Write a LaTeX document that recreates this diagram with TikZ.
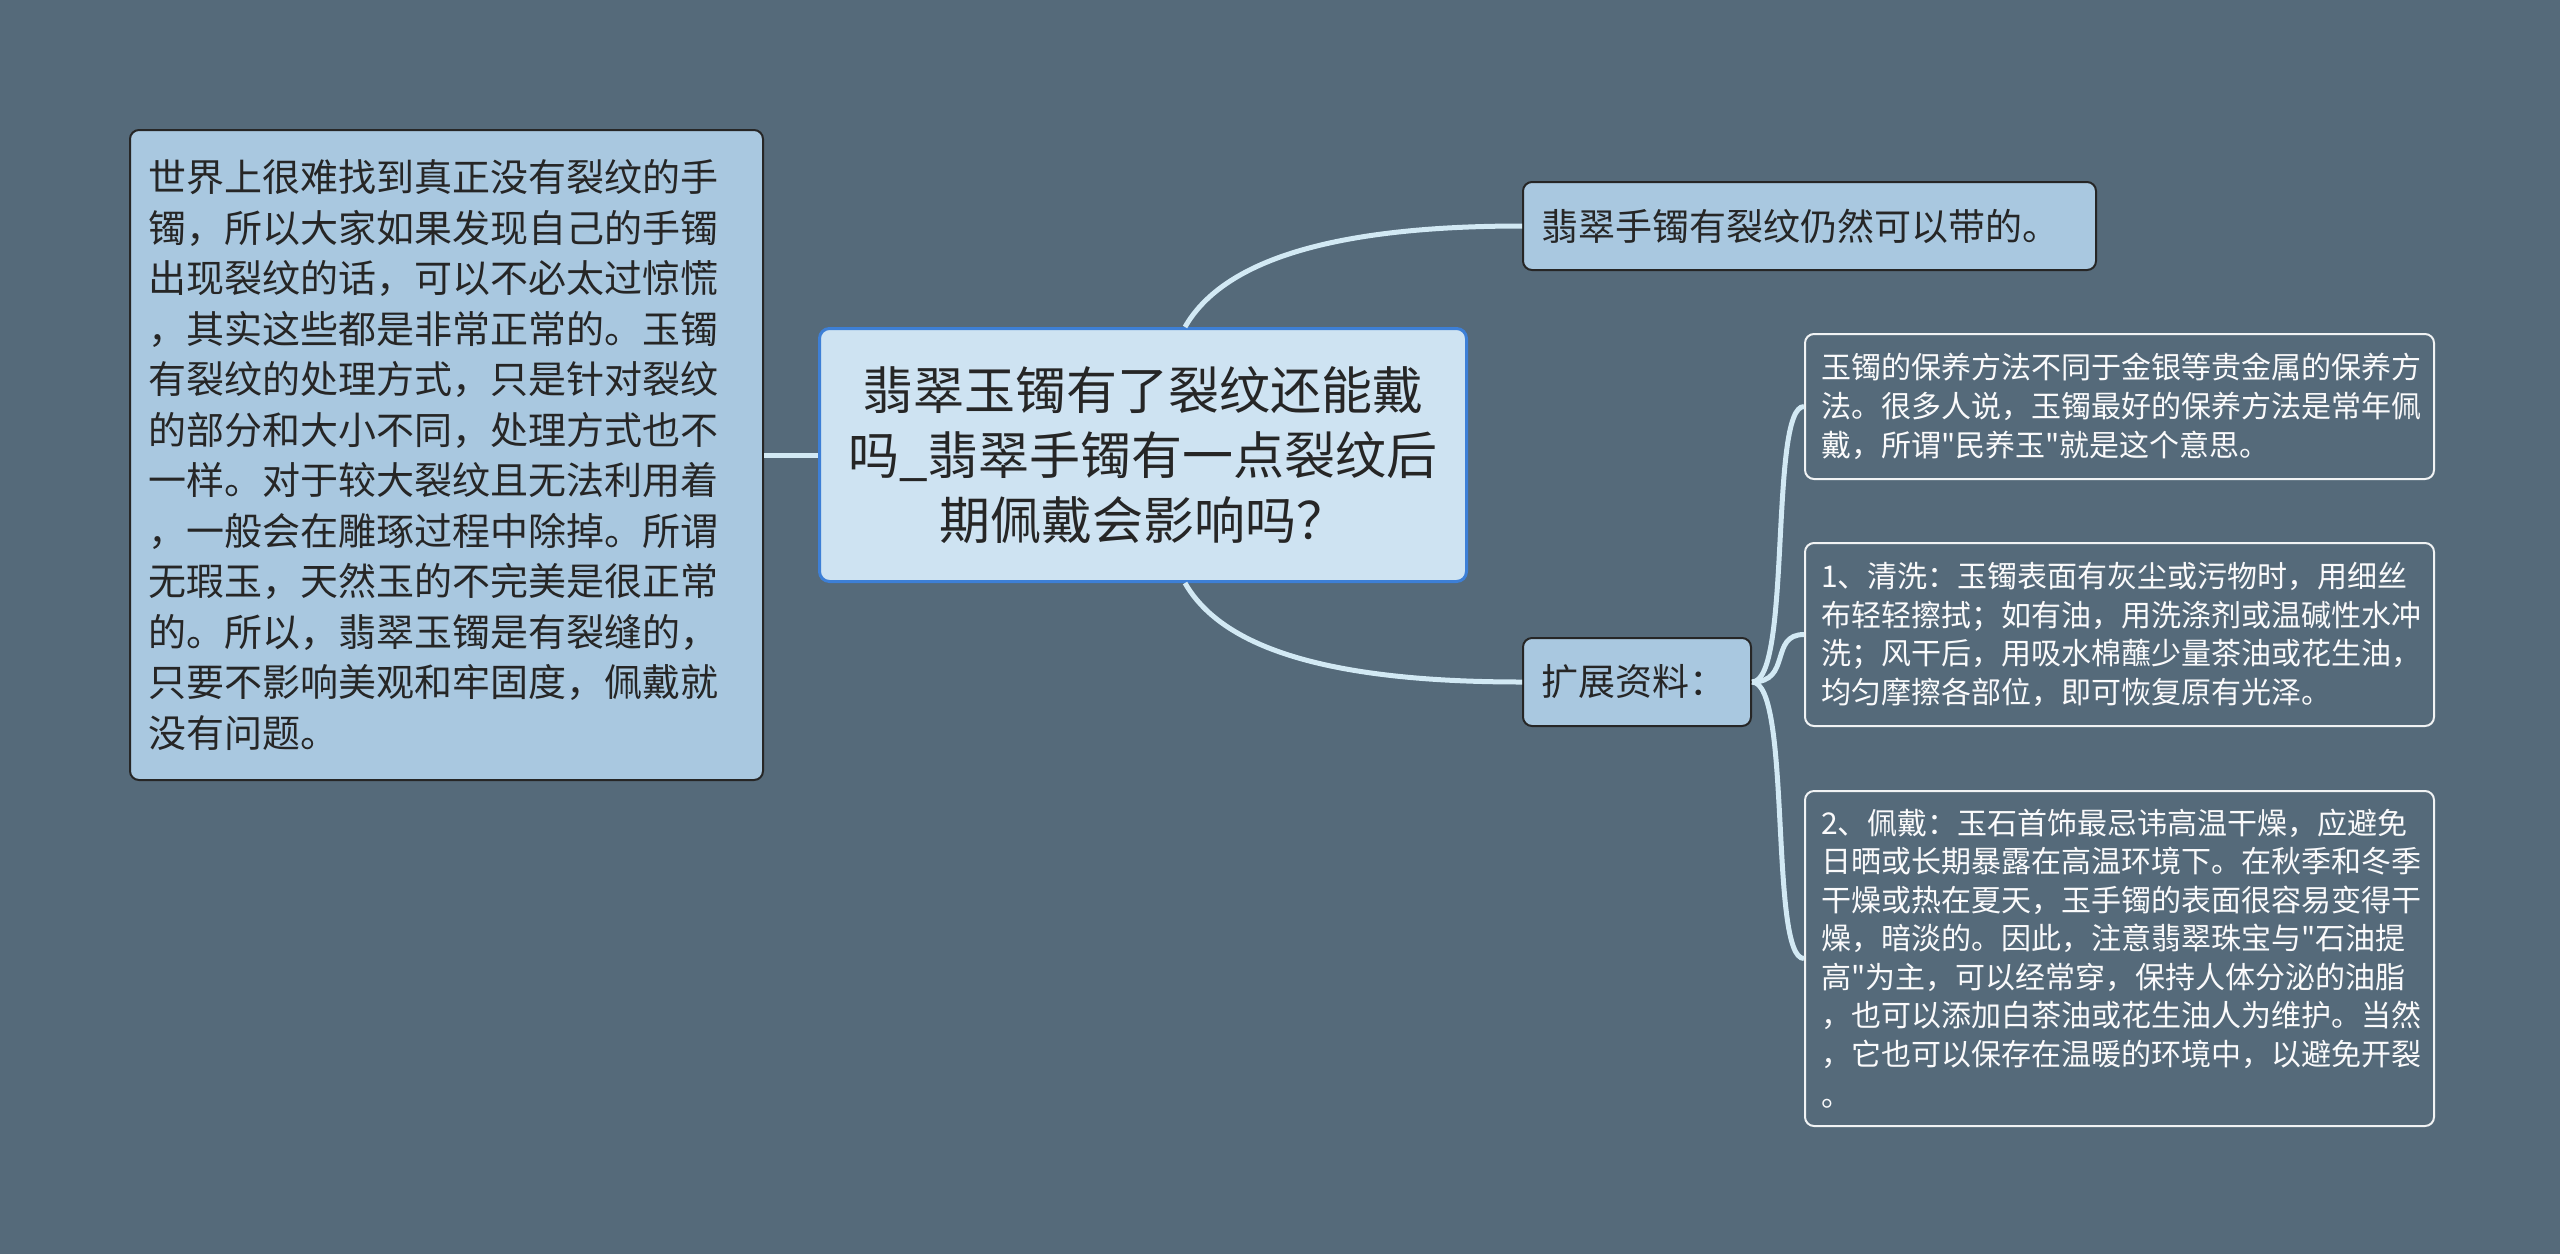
\documentclass[tikz,border=0pt]{standalone}
\usepackage{fontspec}
\setmainfont{Noto Sans CJK SC}[Ligatures=TeXOff]
\definecolor{bgc}{HTML}{556A7A}
\definecolor{lightfill}{HTML}{A9C8E0}
\definecolor{centerfill}{HTML}{CEE3F2}
\definecolor{centerborder}{HTML}{3D7FD6}
\definecolor{darktext}{HTML}{262626}
\definecolor{linkc}{HTML}{D2E9F4}
\tikzset{
  lightbox/.style={draw=black!85, line width=2pt, fill=lightfill, rounded corners=9pt, text=darktext, anchor=north west, inner xsep=18pt, inner ysep=0pt},
  centerbox/.style={draw=centerborder, line width=3pt, fill=centerfill, rounded corners=10pt, text=darktext, anchor=north west, inner sep=0pt, align=center},
  darkbox/.style={draw=white!92!bgc, line width=2pt, fill=bgc, rounded corners=9pt, text=white!97!bgc, anchor=north west, inner xsep=16pt, inner ysep=0pt},
  link/.style={draw=linkc, line width=5pt},
}
\begin{document}
\begin{tikzpicture}[x=1pt,y=-1pt]
\fill[bgc] (0,0) rectangle (2560,1254);
\useasboundingbox (0,0) rectangle (2560,1254);

% left box
\node[lightbox, minimum width=633pt, minimum height=650pt, text width=597pt, align=left,
  font={\fontsize{38}{50.5}\selectfont}] (left) at (129,129) {世界上很难找到真正没有裂纹的手\\镯，所以大家如果发现自己的手镯\\出现裂纹的话，可以不必太过惊慌\\，其实这些都是非常正常的。玉镯\\有裂纹的处理方式，只是针对裂纹\\的部分和大小不同，处理方式也不\\一样。对于较大裂纹且无法利用着\\，一般会在雕琢过程中除掉。所谓\\无瑕玉，天然玉的不完美是很正常\\的。所以，翡翠玉镯是有裂缝的，\\只要不影响美观和牢固度，佩戴就\\没有问题。};

% center box
\node[centerbox, minimum width=647pt, minimum height=253pt, text width=620pt,
  font={\fontsize{51}{65}\selectfont}] (center) at (818,327) {翡翠玉镯有了裂纹还能戴\\吗\_翡翠手镯有一点裂纹后\\期佩戴会影响吗？};

% top right
\node[lightbox, minimum width=573pt, minimum height=88pt, text width=537pt, align=left,
  font={\fontsize{37}{46}\selectfont}] (top) at (1522,181) {翡翠手镯有裂纹仍然可以带的。};

% extension
\node[lightbox, minimum width=228pt, minimum height=88pt, text width=192pt, align=left,
  font={\fontsize{37}{46}\selectfont}] (ext) at (1522,637) {扩展资料：};

% right boxes
\node[darkbox, minimum width=629pt, minimum height=145pt, text width=597pt, align=left,
  font={\fontsize{30}{39}\selectfont}] (r1) at (1804,333) {玉镯的保养方法不同于金银等贵金属的保养方\\法。很多人说，玉镯最好的保养方法是常年佩\\戴，所谓"民养玉"就是这个意思。};
\node[darkbox, minimum width=629pt, minimum height=183pt, text width=597pt, align=left,
  font={\fontsize{30}{38.5}\selectfont}] (r2) at (1804,542) {1、清洗：玉镯表面有灰尘或污物时，用细丝\\布轻轻擦拭；如有油，用洗涤剂或温碱性水冲\\洗；风干后，用吸水棉蘸少量茶油或花生油，\\均匀摩擦各部位，即可恢复原有光泽。};
\node[darkbox, minimum width=629pt, minimum height=335pt, text width=597pt, align=left,
  font={\fontsize{30}{38.5}\selectfont}] (r3) at (1804,790) {2、佩戴：玉石首饰最忌讳高温干燥，应避免\\日晒或长期暴露在高温环境下。在秋季和冬季\\干燥或热在夏天，玉手镯的表面很容易变得干\\燥，暗淡的。因此，注意翡翠珠宝与"石油提\\高"为主，可以经常穿，保持人体分泌的油脂\\，也可以添加白茶油或花生油人为维护。当然\\，它也可以保存在温暖的环境中，以避免开裂\\[3pt]。};

% connectors
\coordinate (ctop) at ([xshift=42pt]center.north);
\coordinate (cbot) at ([xshift=42pt]center.south);
\path[link] (center.west) -- (left.east);
\path[link] (ctop) .. controls +(40,-70) and +(-180,0) .. (top.west);
\path[link] (cbot) .. controls +(40,70) and +(-180,0) .. (ext.west);
\path[link] (ext.east) .. controls +(40,0) and +(-35,0) .. (r1.west);
\path[link] (ext.east) .. controls +(40,0) and +(-35,0) .. (r2.west);
\path[link] (ext.east) .. controls +(40,0) and +(-35,0) .. (r3.west);
\end{tikzpicture}
\end{document}
